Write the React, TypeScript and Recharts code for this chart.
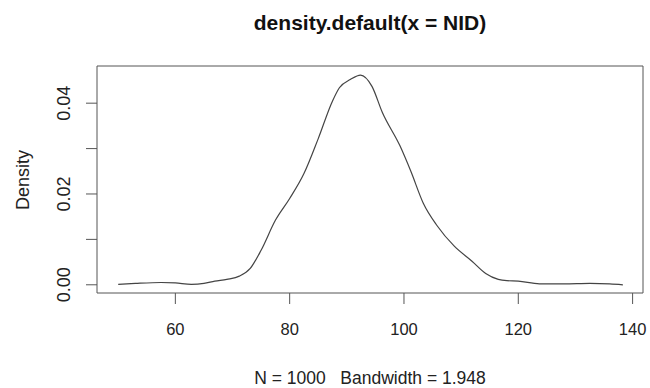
import React from "react";
import { Line, LineChart, ReferenceArea, XAxis, YAxis } from "recharts";

// density estimate
const nidValues = [
  50, 53, 57.5, 60, 62.8, 65, 66.9, 69, 71.2, 73.1, 75, 77.5, 80, 82.5, 85,
  87.5, 88.7, 90.6, 92.4, 94.4, 96.2, 99.3, 101.2, 103.4, 105.8, 108.8, 111.9,
  114.3, 116.5, 118, 120, 123.7, 128, 132.5, 136, 138.3,
];
const densityValues = [
  0.0001, 0.0003, 0.0005, 0.0004, 0.0001, 0.0003, 0.0008, 0.0012, 0.0019,
  0.0036, 0.0076, 0.0142, 0.019, 0.0245, 0.0322, 0.0405, 0.0434, 0.0452,
  0.0462, 0.0437, 0.038, 0.0306, 0.025, 0.0179, 0.013, 0.0085, 0.0052, 0.0025,
  0.0012, 0.0009, 0.0008, 0.0002, 0.0002, 0.0003, 0.0002, 0.0,
];
const xTicks = [60, 80, 100, 120, 140];
const yTicks = [0, 0.01, 0.02, 0.03, 0.04];
const yTickLabels = ["0.00", "", "0.02", "", "0.04"];

const title = "density.default(x = NID)";
const subtitle = "N = 1000   Bandwidth = 1.948";

const data = nidValues.map((x, i) => ({ x, density: densityValues[i] }));

const xDomain: [number, number] = [46.29, 141.82];
const yDomain: [number, number] = [-0.00181, 0.04819];

const font = "'Liberation Sans', Arial, Helvetica, sans-serif";
const ink = "#222";
const lineColor = "#555";

function XTick(props: any) {
  const { x, y, payload } = props;
  return (
    <text
      x={x}
      y={y + 23}
      textAnchor="middle"
      dominantBaseline="central"
      fontFamily={font}
      fontSize={16.5}
      fill={ink}
    >
      {payload.value}
    </text>
  );
}

function YTick(props: any) {
  const { x, y, index } = props;
  const label = yTickLabels[index];
  if (!label) return null;
  return (
    <text
      x={x - 19.5}
      y={y}
      transform={`rotate(-90, ${x - 19.5}, ${y})`}
      textAnchor="middle"
      dominantBaseline="central"
      fontFamily={font}
      fontSize={18}
      fill={ink}
    >
      {label}
    </text>
  );
}

export default function App() {
  return (
    <div style={{ position: "absolute", left: 0, top: 0, width: 650, height: 388, background: "#fff" }}>
      <LineChart
        width={650}
        height={388}
        data={data}
        margin={{ top: 66, right: 7, bottom: 55, left: 37 }}
      >
        <XAxis
          type="number"
          dataKey="x"
          domain={xDomain}
          ticks={xTicks}
          allowDataOverflow
          axisLine={false}
          tickSize={11}
          tickLine={{ stroke: lineColor }}
          tick={<XTick />}
          height={40}
        />
        <YAxis
          type="number"
          domain={yDomain}
          ticks={yTicks}
          allowDataOverflow
          axisLine={false}
          tickSize={11}
          tickLine={{ stroke: lineColor }}
          tick={<YTick />}
          width={60}
        />
        <ReferenceArea
          x1={xDomain[0]}
          x2={xDomain[1]}
          y1={yDomain[0]}
          y2={yDomain[1]}
          fill="none"
          stroke={lineColor}
          strokeWidth={1}
          ifOverflow="visible"
        />
        <Line
          type="monotone"
          dataKey="density"
          stroke="#444"
          strokeWidth={1.2}
          dot={false}
          activeDot={false}
          isAnimationActive={false}
        />
        <text
          x={370}
          y={22}
          textAnchor="middle"
          dominantBaseline="central"
          fontFamily={font}
          fontSize={21}
          fontWeight="bold"
          fill="#111"
        >
          {title}
        </text>
        <text
          x={370}
          y={378}
          textAnchor="middle"
          dominantBaseline="central"
          fontFamily={font}
          fontSize={17.5}
          fill={ink}
          style={{ whiteSpace: "pre" }}
        >
          {subtitle}
        </text>
        <text
          x={22.5}
          y={180}
          transform="rotate(-90, 22.5, 180)"
          textAnchor="middle"
          dominantBaseline="central"
          fontFamily={font}
          fontSize={18}
          fill={ink}
        >
          Density
        </text>
      </LineChart>
    </div>
  );
}
